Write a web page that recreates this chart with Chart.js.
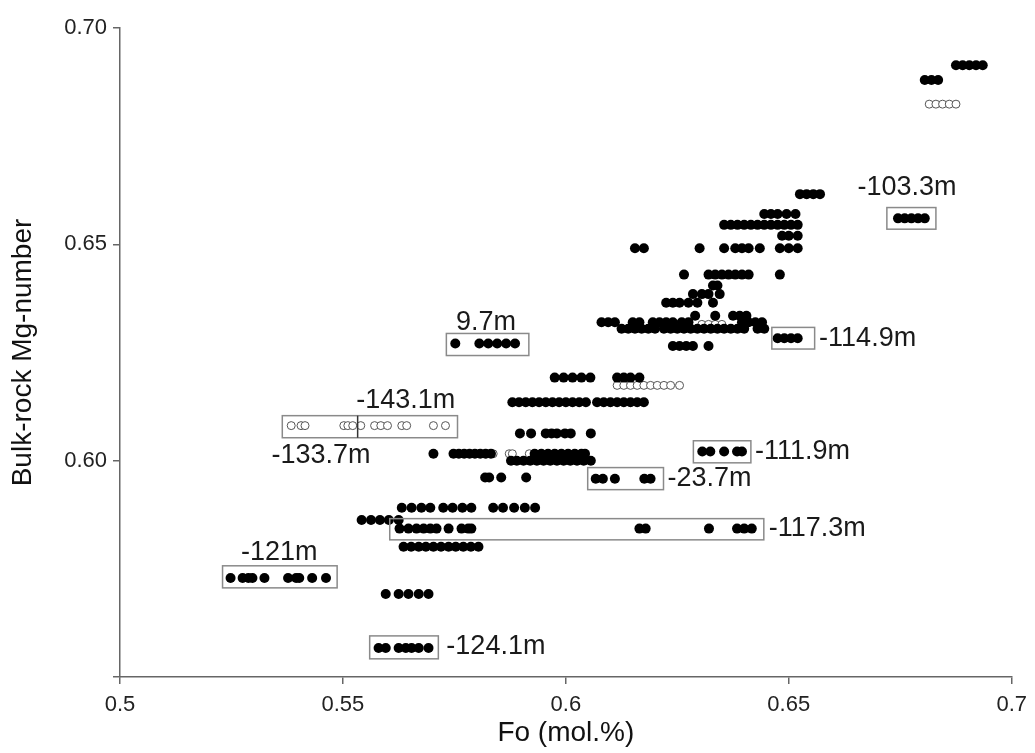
<!DOCTYPE html>
<html lang="en">
<head>
<meta charset="UTF-8">
<title>Bulk-rock Mg-number vs Fo</title>
<script src="https://cdn.jsdelivr.net/npm/chart.js"></script>
<style>
    body { margin: 0; background: #ffffff; }
    #wrap { width: 1035px; height: 753px; }
</style>
</head>
<body>
<div id="wrap"><canvas id="chart" width="1035" height="753"></canvas></div>
<script>
    // axis ticks
    const xTicks = [0.5, 0.55, 0.6, 0.65, 0.7];
    const yTicks = [0.55, 0.60, 0.65, 0.70];

    // filled points: each row is [Mg-number, [Fo values...]]
    const topRows = [
        [0.6914, [0.6875, 0.689, 0.6905, 0.692, 0.6935]],
        [0.688, [0.6805, 0.682, 0.6835]],
        [0.656, [0.6745, 0.676, 0.6775, 0.679, 0.6805]]
    ];
    const upperRows = [
        [0.6616, [0.6525, 0.654, 0.6555, 0.657]],
        [0.657, [0.6445, 0.646, 0.6475, 0.6495, 0.6515]],
        [0.6545, [0.6355, 0.637, 0.6385, 0.640, 0.6415, 0.643, 0.6445, 0.646, 0.6475, 0.649, 0.6505, 0.652]],
        [0.652, [0.6485, 0.650, 0.652]],
        [0.6491, [0.6155, 0.6175, 0.630, 0.6355, 0.638, 0.6395, 0.641, 0.6435, 0.648, 0.650, 0.652]],
        [0.643, [0.6265, 0.632, 0.6335, 0.635, 0.6365, 0.638, 0.6395, 0.641, 0.648]],
        [0.6405, [0.633, 0.634]],
        [0.6385, [0.6285, 0.6305, 0.632, 0.6345]],
        [0.6365, [0.6225, 0.624, 0.6255, 0.6275, 0.6295, 0.633]],
        [0.6335, [0.629, 0.6335, 0.6375, 0.639, 0.6405]],
        [0.632, [0.608, 0.6095, 0.611, 0.615, 0.6165, 0.6195, 0.621, 0.6225, 0.624, 0.626, 0.6275, 0.6395, 0.641, 0.6425, 0.644]],
        [0.6305, [0.6125, 0.614, 0.6155, 0.617, 0.6185, 0.620, 0.622, 0.6235, 0.625, 0.6265, 0.628, 0.6295, 0.631, 0.6325, 0.634, 0.6355, 0.637, 0.6385, 0.640, 0.643, 0.6445]],
        [0.6283, [0.6475, 0.649, 0.6505, 0.652]],
        [0.6265, [0.624, 0.6255, 0.627, 0.6285, 0.632]],
        [0.6271, [0.5752, 0.5806, 0.5826, 0.5846, 0.5866, 0.5886]]
    ];
    const midRows = [
        [0.6192, [0.5975, 0.5995, 0.6015, 0.6035, 0.6055, 0.6115, 0.613, 0.6145, 0.6165]],
        [0.6135, [0.588, 0.5895, 0.591, 0.5925, 0.594, 0.5955, 0.597, 0.5985, 0.600, 0.6015, 0.603, 0.6045, 0.607, 0.6085, 0.610, 0.6115, 0.613, 0.6145, 0.616, 0.6175]],
        [0.6063, [0.5897, 0.5922, 0.5955, 0.5968, 0.598, 0.5998, 0.6011, 0.6056]],
        [0.6016, [0.5703, 0.5748, 0.576, 0.5772, 0.5784, 0.5796, 0.5808, 0.582, 0.5832, 0.593, 0.5945, 0.596, 0.5975, 0.599, 0.6005, 0.602, 0.6035, 0.6043]],
        [0.6000, [0.5877, 0.589, 0.5905, 0.592, 0.5935, 0.595, 0.5965, 0.598, 0.5995, 0.601, 0.6025, 0.604, 0.6056]],
        [0.5961, [0.5819, 0.5828, 0.5855, 0.5911]],
        [0.5958, [0.6067, 0.6083, 0.611, 0.6176, 0.619]],
        [0.6021, [0.6306, 0.6324, 0.6355, 0.6384, 0.6395]]
    ];
    const lowRows = [
        [0.5891, [0.5632, 0.5654, 0.5676, 0.5696, 0.5725, 0.5746, 0.5768, 0.5788, 0.5837, 0.5859, 0.5884, 0.5908, 0.5931]],
        [0.5863, [0.5542, 0.5563, 0.5583, 0.5603, 0.5625]],
        [0.5843, [0.5627, 0.5647, 0.5665, 0.5681, 0.5696, 0.571, 0.5737, 0.5766, 0.5781, 0.5788, 0.6165, 0.6179, 0.6321, 0.6384, 0.640, 0.6417]],
        [0.5801, [0.5636, 0.5653, 0.567, 0.5686, 0.5703, 0.572, 0.5737, 0.5753, 0.577, 0.5787, 0.5804]],
        [0.5729, [0.5248, 0.5275, 0.5288, 0.5297, 0.5324, 0.5377, 0.5395, 0.5402, 0.5431, 0.5462]],
        [0.5692, [0.5596, 0.5625, 0.5647, 0.567, 0.5692]],
        [0.5567, [0.558, 0.5596, 0.5625, 0.5641, 0.5654, 0.567, 0.5692]]
    ];
    // open points
    const openRows = [
        [0.6824, [0.6815, 0.683, 0.6845, 0.686, 0.6875]],
        [0.6315, [0.6305, 0.632, 0.6335, 0.635]],
        [0.6174, [0.6115, 0.613, 0.6145, 0.616, 0.6175, 0.619, 0.6205, 0.622, 0.6235, 0.6255]],
        [0.6081, [0.5384, 0.5406, 0.5415, 0.5502, 0.5511, 0.5522, 0.554, 0.5571, 0.5585, 0.560, 0.5632, 0.5643, 0.5703, 0.573]],
        [0.6016, [0.5822, 0.5837, 0.5873, 0.588, 0.5918]]
    ];

    // sample depth boxes: [label, xMin, xMax, yMin, yMax, labelX, labelY, align]
    const boxes = [
        ['-103.3m', 0.672, 0.683, 0.6535, 0.6585, 0.6765, 0.6632, 'center'],
        ['9.7m', 0.5732, 0.5917, 0.6243, 0.6294, 0.5821, 0.6319, 'center'],
        ['-114.9m', 0.6462, 0.6558, 0.6258, 0.6308, 0.6568, 0.6283, 'left'],
        ['-143.1m', 0.5364, 0.5757, 0.6053, 0.6104, 0.5641, 0.6139, 'center'],
        ['-111.9m', 0.6286, 0.6415, 0.5995, 0.6046, 0.6424, 0.6021, 'left'],
        ['-23.7m', 0.6049, 0.6219, 0.5933, 0.5984, 0.6228, 0.5958, 'left'],
        ['-117.3m', 0.5605, 0.6444, 0.5817, 0.5866, 0.6455, 0.5843, 'left'],
        ['-121m', 0.5230, 0.5487, 0.5706, 0.5757, 0.5357, 0.5787, 'center'],
        ['-124.1m', 0.5560, 0.5714, 0.5542, 0.5595, 0.5732, 0.5570, 'left']
    ];
    const extraLabels = [['-133.7m', 0.5451, 0.6012]];
    const dividerX = 0.5533;

    function toPoints(rows) {
        const pts = [];
        rows.forEach(r => r[1].forEach(x => pts.push({ x: x, y: r[0] })));
        return pts;
    }

    const filled = toPoints(topRows.concat(upperRows, midRows, lowRows));
    const open = toPoints(openRows);

    const boxPlugin = {
        id: 'boxes',
        afterDatasetsDraw(chart) {
            const ctx = chart.ctx;
            const xs = chart.scales.x, ys = chart.scales.y;
            ctx.save();
            ctx.strokeStyle = '#8a8a8a';
            ctx.lineWidth = 1.5;
            boxes.forEach(b => {
                const x1 = xs.getPixelForValue(b[1]), x2 = xs.getPixelForValue(b[2]);
                const y1 = ys.getPixelForValue(b[4]), y2 = ys.getPixelForValue(b[3]);
                ctx.strokeRect(x1, y1, x2 - x1, y2 - y1);
            });
            // divider inside the -143.1m / -133.7m box
            ctx.strokeStyle = '#333';
            ctx.beginPath();
            ctx.moveTo(xs.getPixelForValue(dividerX), ys.getPixelForValue(0.6104));
            ctx.lineTo(xs.getPixelForValue(dividerX), ys.getPixelForValue(0.6053));
            ctx.stroke();

            ctx.fillStyle = '#1a1a1a';
            ctx.font = '27px "Liberation Sans", Arial, sans-serif';
            ctx.textBaseline = 'middle';
            boxes.forEach(b => {
                ctx.textAlign = b[7];
                ctx.fillText(b[0], xs.getPixelForValue(b[5]), ys.getPixelForValue(b[6]));
            });
            extraLabels.forEach(l => {
                ctx.textAlign = 'center';
                ctx.fillText(l[0], xs.getPixelForValue(l[1]), ys.getPixelForValue(l[2]));
            });
            ctx.restore();
        }
    };

    const font = '"Liberation Sans", Arial, sans-serif';

    new Chart(document.getElementById('chart').getContext('2d'), {
        type: 'scatter',
        data: {
            datasets: [
                {
                    label: 'filled',
                    data: filled,
                    pointRadius: 5,
                    pointBackgroundColor: '#000',
                    pointBorderColor: '#000',
                    pointBorderWidth: 0
                },
                {
                    label: 'open',
                    data: open,
                    pointRadius: 4,
                    pointBackgroundColor: '#fff',
                    pointBorderColor: '#555',
                    pointBorderWidth: 1
                }
            ]
        },
        options: {
            responsive: false,
            animation: false,
            layout: { padding: { top: 28, right: 19, left: 0, bottom: 0 } },
            plugins: {
                legend: { display: false },
                tooltip: { enabled: false }
            },
            scales: {
                x: {
                    type: 'linear',
                    min: 0.5,
                    max: 0.7,
                    afterFit: s => { s.height = 76; },
                    afterBuildTicks: s => { s.ticks = xTicks.map(v => ({ value: v })); },
                    ticks: {
                        color: '#222',
                        font: { family: font, size: 22 },
                        padding: 8,
                        maxRotation: 0,
                        callback: v => String(+v.toFixed(2))
                    },
                    grid: { drawOnChartArea: false, drawTicks: true, tickLength: 7, color: '#666', lineWidth: 1.5 },
                    border: { color: '#666', width: 1.5 },
                    title: {
                        display: true,
                        text: 'Fo (mol.%)',
                        color: '#111',
                        font: { family: font, size: 28 },
                        padding: { top: 0, bottom: 3 }
                    }
                },
                y: {
                    type: 'linear',
                    min: 0.55,
                    max: 0.70,
                    afterFit: s => { s.width = 120; },
                    afterBuildTicks: s => { s.ticks = yTicks.map(v => ({ value: v })); },
                    ticks: {
                        color: '#222',
                        font: { family: font, size: 22 },
                        padding: 6,
                        callback: v => (Math.abs(v - 0.55) < 1e-6 ? '' : v.toFixed(2))
                    },
                    grid: { drawOnChartArea: false, drawTicks: true, tickLength: 7, color: '#666', lineWidth: 1.5 },
                    border: { color: '#666', width: 1.5 },
                    title: {
                        display: true,
                        text: 'Bulk-rock Mg-number',
                        color: '#111',
                        font: { family: font, size: 28 },
                        padding: { top: 6, bottom: 0 }
                    }
                }
            }
        },
        plugins: [boxPlugin]
    });
</script>
</body>
</html>
